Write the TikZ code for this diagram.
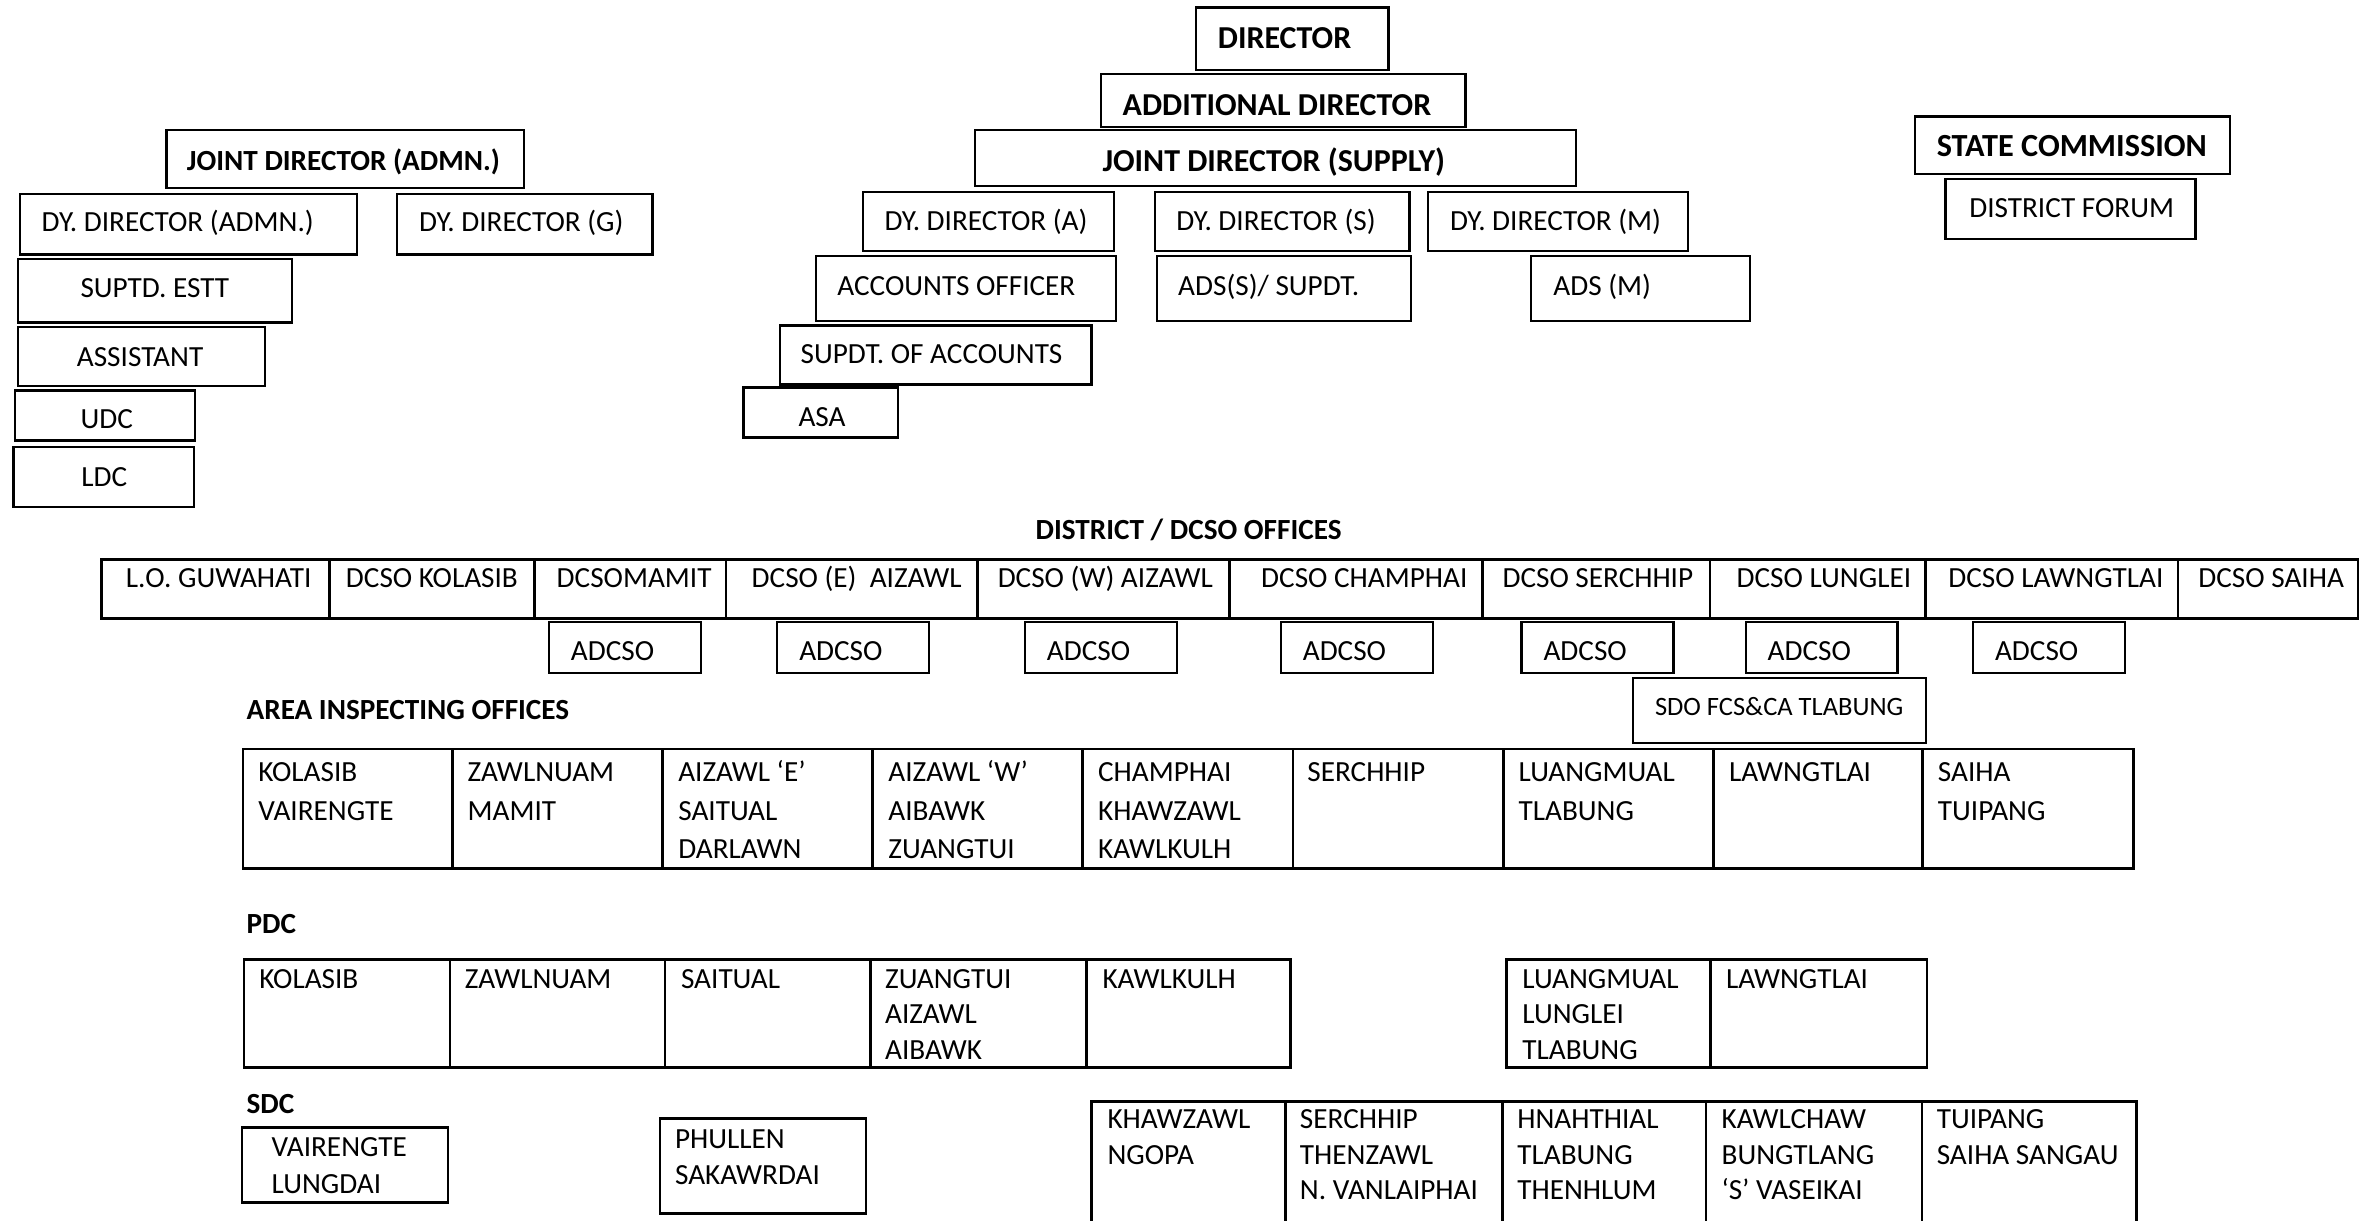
\documentclass[tikz,border=0pt]{standalone}
\usepackage{fontspec}
\setmainfont{Carlito}
\usetikzlibrary{fit}
\newcommand\rows[1]{\vtop{\halign{##\hfil\cr#1\crcr}}}
\newcommand\B[6]{\node[#1, fit={(#3,#4)(#5,#6)}] (#2) {};}
\tikzset{
 bx/.style={draw, line width=1.5pt, inner sep=0pt},
 tb/.style={draw, line width=1.8pt, inner sep=0pt},
 tx/.style={anchor=base west, inner sep=0pt, outer sep=0pt, font=\fontsize{19.3}{23.4}\selectfont},
 ttl/.style={tx, font=\fontsize{21.1}{25}\selectfont\bfseries},
 hd/.style={tx, font=\fontsize{19.3}{23}\selectfont\bfseries},
 area/.style={tx, font=\fontsize{19.3}{25.3}\selectfont},
 sm/.style={tx, font=\fontsize{17.5}{21}\selectfont},
}
\begin{document}
\begin{tikzpicture}[x=1pt,y=-1pt]
\path[use as bounding box, clip] (0,0) rectangle (1568,806.4);
\fill[white] (0,0) rectangle (1568,806.4);
% ---------- top: supply wing ----------
\B{bx}{dir}{790}{5}{917}{46}
\node[ttl] (dir-t) at (804.4,31.9) {DIRECTOR};
\B{bx}{addl}{727}{49}{968}{84}
\node[ttl] (addl-t) at (741.5,76.4) {ADDITIONAL DIRECTOR};
\B{bx}{jds}{644}{86}{1041}{123}
\node[ttl] (jds-t) at (728.2,113.4) {JOINT DIRECTOR (SUPPLY)};
\B{bx}{ddA}{570}{127}{736}{166}
\node[tx] (ddA-t) at (584.2,152) {DY. DIRECTOR (A)};
\B{bx}{ddS}{763}{127}{931}{166}
\node[tx] (ddS-t) at (776.9,152) {DY. DIRECTOR (S)};
\B{bx}{ddM}{943}{127}{1115}{166}
\node[tx] (ddM-t) at (957.7,152) {DY. DIRECTOR (M)};
\B{bx}{ao}{539}{169}{737}{212}
\node[tx] (ao-t) at (553.1,195) {ACCOUNTS OFFICER};
\B{bx}{adss}{764}{169}{932}{212}
\node[tx] (adss-t) at (778.2,195) {ADS(S)/ SUPDT.};
\B{bx}{adsm}{1011}{169}{1156}{212}
\node[tx] (adsm-t) at (1026,195) {ADS (M)};
\B{bx}{soa}{515}{215}{721}{254}
\node[tx] (soa-t) at (528.8,240) {SUPDT. OF ACCOUNTS};
\B{bx}{asa}{491}{256}{593}{289}
\node[tx] (asa-t) at (527.4,282) {ASA};
% ---------- top: admin wing ----------
\B{bx}{jda}{110}{86}{346}{124}
\node[hd] (jda-t) at (123.5,112.3) {JOINT DIRECTOR (ADMN.)};
\B{bx}{dda}{13}{128}{236}{168}
\node[tx] (dda-t) at (27.5,153) {DY. DIRECTOR (ADMN.)};
\B{bx}{ddg}{262}{128}{431}{168}
\node[tx] (ddg-t) at (276.8,153) {DY. DIRECTOR (G)};
\B{bx}{sue}{12}{171}{193}{213}
\node[tx] (sue-t) at (53.2,196.4) {SUPTD. ESTT};
\B{bx}{asst}{12}{216}{175}{255}
\node[tx] (asst-t) at (50.8,241.8) {ASSISTANT};
\B{bx}{udc}{10}{258}{129}{291}
\node[tx] (udc-t) at (53.2,283) {UDC};
\B{bx}{ldc}{9}{295}{128}{335}
\node[tx] (ldc-t) at (53.8,321) {LDC};
% ---------- top: commission ----------
\B{bx}{sc}{1265}{77}{1473}{115}
\node[ttl, font=\fontsize{21.3}{25}\selectfont\bfseries] (sc-t) at (1279.2,103.5) {STATE COMMISSION};
\B{bx}{df}{1285}{118}{1450}{158}
\node[tx] (df-t) at (1300.7,143.6) {DISTRICT FORUM};
% ---------- district offices ----------
\node[hd] (dist-h) at (684,356.5) {DISTRICT / DCSO OFFICES};
\B{tb}{d1}{67.1}{369.5}{217.5}{408.5}
\B{tb}{d2}{217.5}{369.5}{352.9}{408.5}
\B{tb}{d3}{352.9}{369.5}{479.5}{408.5}
\B{tb}{d4}{479.5}{369.5}{645.8}{408.5}
\B{tb}{d5}{645.8}{369.5}{812}{408.5}
\B{tb}{d6}{812}{369.5}{979}{408.5}
\B{tb}{d7}{979}{369.5}{1129.5}{408.5}
\B{tb}{d8}{1129.5}{369.5}{1271.9}{408.5}
\B{tb}{d9}{1271.9}{369.5}{1438.6}{408.5}
\B{tb}{d10}{1438.6}{369.5}{1557.5}{408.5}
\node[tx] (d1-t) at (83.2,388) {L.O. GUWAHATI};
\node[tx] (d2-t) at (228.5,388) {DCSO KOLASIB};
\node[tx] (d3-t) at (367.7,388) {DCSOMAMIT};
\node[tx] (d4-t) at (496.5,388) {DCSO (E)\ \ AIZAWL};
\node[tx] (d5-t) at (659,388) {DCSO (W) AIZAWL};
\node[tx] (d6-t) at (833,388) {DCSO CHAMPHAI};
\node[tx] (d7-t) at (992.4,388) {DCSO SERCHHIP};
\node[tx] (d8-t) at (1147,388) {DCSO LUNGLEI};
\node[tx] (d9-t) at (1286.9,388) {DCSO LAWNGTLAI};
\node[tx] (d10-t) at (1452,388) {DCSO SAIHA};
\foreach \i/\x in {1/362.6,2/513.4,3/677,4/846,5/1005,6/1153,7/1303.2}{
  \B{bx}{ad\i}{\x}{410.6}{\x+100.3}{444.7}
  \node[tx] (ad\i-t) at (\x+14.5,436) {ADCSO};
}
\B{bx}{sdo}{1078.6}{447.9}{1272}{490.9}
\node[sm] (sdo-t) at (1093.1,472.3) {SDO FCS\&CA TLABUNG};
% ---------- area inspecting offices ----------
\node[hd] (area-h) at (162.9,475.5) {AREA INSPECTING OFFICES};
\B{tb}{a1}{160.5}{494.7}{299}{573.5}
\B{tb}{a2}{299}{494.7}{437.7}{573.5}
\B{tb}{a3}{437.7}{494.7}{576.4}{573.5}
\B{tb}{a4}{576.4}{494.7}{715.1}{573.5}
\B{tb}{a5}{715.1}{494.7}{854}{573.5}
\B{tb}{a6}{854}{494.7}{993}{573.5}
\B{tb}{a7}{993}{494.7}{1131.6}{573.5}
\B{tb}{a8}{1131.6}{494.7}{1269.9}{573.5}
\B{tb}{a9}{1269.9}{494.7}{1409}{573.5}
\node[area] (a1-t) at (170.6,516.3) {\rows{KOLASIB\cr VAIRENGTE}};
\node[area] (a2-t) at (308.9,516.3) {\rows{ZAWLNUAM\cr MAMIT}};
\node[area] (a3-t) at (448,516.3) {\rows{AIZAWL ‘E’\cr SAITUAL\cr DARLAWN}};
\node[area] (a4-t) at (586.8,516.3) {\rows{AIZAWL ‘W’\cr AIBAWK\cr ZUANGTUI}};
\node[area] (a5-t) at (725.3,516.3) {\rows{CHAMPHAI\cr KHAWZAWL\cr KAWLKULH}};
\node[area] (a6-t) at (863.5,516.3) {SERCHHIP};
\node[area] (a7-t) at (1003,516.3) {\rows{LUANGMUAL\cr TLABUNG}};
\node[area] (a8-t) at (1142,516.3) {LAWNGTLAI};
\node[area] (a9-t) at (1280,516.3) {\rows{SAIHA\cr TUIPANG}};
% ---------- PDC ----------
\node[hd] (pdc-h) at (162.9,616.8) {PDC};
\B{tb}{p1}{161.1}{633.6}{297.2}{705}
\B{tb}{p2}{297.2}{633.6}{439.2}{705}
\B{tb}{p3}{439.2}{633.6}{575.1}{705}
\B{tb}{p4}{575.1}{633.6}{717.8}{705}
\B{tb}{p5}{717.8}{633.6}{852.5}{705}
\node[tx] (p1-t) at (171.3,652.9) {KOLASIB};
\node[tx] (p2-t) at (307.1,652.9) {ZAWLNUAM};
\node[tx] (p3-t) at (449.8,652.9) {SAITUAL};
\node[tx] (p4-t) at (584.6,652.9) {\rows{ZUANGTUI\cr AIZAWL\cr AIBAWK}};
\node[tx] (p5-t) at (728.2,652.9) {KAWLKULH};
\B{tb}{p6}{995.1}{633.6}{1129.9}{705}
\B{tb}{p7}{1129.9}{633.6}{1272.8}{705}
\node[tx] (p6-t) at (1005.5,652.9) {\rows{LUANGMUAL\cr LUNGLEI\cr TLABUNG}};
\node[tx] (p7-t) at (1140,652.9) {LAWNGTLAI};
% ---------- SDC ----------
\node[hd] (sdc-h) at (162.9,735.4) {SDC};
\B{bx}{s1}{159.6}{744.7}{296.1}{794.2}
\node[tx, font=\fontsize{19.3}{24.4}\selectfont] (s1-t) at (179.4,764.1) {\rows{VAIRENGTE\cr LUNGDAI}};
\B{bx}{s2}{436}{738.8}{572}{801.5}
\node[tx, font=\fontsize{19.3}{23.7}\selectfont] (s2-t) at (445.9,758.4) {\rows{PHULLEN\cr SAKAWRDAI}};
\B{tb}{s3}{721.1}{727.3}{849.2}{830}
\B{tb}{s4}{849.2}{727.3}{992.3}{830}
\B{tb}{s5}{992.3}{727.3}{1126.8}{830}
\B{tb}{s6}{1126.8}{727.3}{1269.5}{830}
\B{tb}{s7}{1269.5}{727.3}{1411}{830}
\node[tx] (s3-t) at (731.5,745.6) {\rows{KHAWZAWL\cr NGOPA}};
\node[tx] (s4-t) at (858.6,745.6) {\rows{SERCHHIP\cr THENZAWL\cr N. VANLAIPHAI}};
\node[tx] (s5-t) at (1002.2,745.6) {\rows{HNAHTHIAL\cr TLABUNG\cr THENHLUM}};
\node[tx] (s6-t) at (1137.1,745.6) {\rows{KAWLCHAW\cr BUNGTLANG\cr ‘S’ VASEIKAI}};
\node[tx] (s7-t) at (1279.2,745.6) {\rows{TUIPANG\cr SAIHA SANGAU}};
\end{tikzpicture}
\end{document}
